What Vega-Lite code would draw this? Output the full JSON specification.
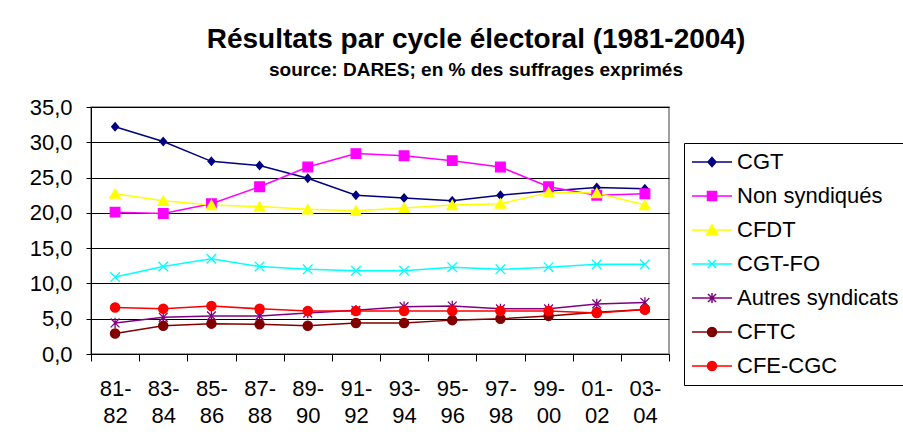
{
  "$schema": "https://vega.github.io/schema/vega-lite/v6.json",
  "width": 578,
  "height": 247,
  "autosize": {"type": "none"},
  "padding": {"left": 91, "top": 107, "right": 234, "bottom": 91},
  "background": "white",
  "title": {
    "text": "Résultats par cycle électoral (1981-2004)",
    "subtitle": "source: DARES; en % des suffrages exprimés",
    "anchor": "middle",
    "dx": 96,
    "offset": 16,
    "font": "Liberation Sans",
    "fontSize": 28,
    "fontWeight": "bold",
    "color": "black",
    "subtitleFont": "Liberation Sans",
    "subtitleFontSize": 19,
    "subtitleFontWeight": "bold",
    "subtitleColor": "black",
    "subtitlePadding": 7
  },
  "data": {
    "values": [
      {"cycle": "81-82", "serie": "CGT", "v": 32.2},
      {"cycle": "83-84", "serie": "CGT", "v": 30.1},
      {"cycle": "85-86", "serie": "CGT", "v": 27.3},
      {"cycle": "87-88", "serie": "CGT", "v": 26.7},
      {"cycle": "89-90", "serie": "CGT", "v": 24.9},
      {"cycle": "91-92", "serie": "CGT", "v": 22.5},
      {"cycle": "93-94", "serie": "CGT", "v": 22.1},
      {"cycle": "95-96", "serie": "CGT", "v": 21.7},
      {"cycle": "97-98", "serie": "CGT", "v": 22.5},
      {"cycle": "99-00", "serie": "CGT", "v": 23.1},
      {"cycle": "01-02", "serie": "CGT", "v": 23.6},
      {"cycle": "03-04", "serie": "CGT", "v": 23.4},
      {"cycle": "81-82", "serie": "Non syndiqués", "v": 20.1},
      {"cycle": "83-84", "serie": "Non syndiqués", "v": 19.9},
      {"cycle": "85-86", "serie": "Non syndiqués", "v": 21.3},
      {"cycle": "87-88", "serie": "Non syndiqués", "v": 23.7},
      {"cycle": "89-90", "serie": "Non syndiqués", "v": 26.5},
      {"cycle": "91-92", "serie": "Non syndiqués", "v": 28.4},
      {"cycle": "93-94", "serie": "Non syndiqués", "v": 28.1},
      {"cycle": "95-96", "serie": "Non syndiqués", "v": 27.4},
      {"cycle": "97-98", "serie": "Non syndiqués", "v": 26.5},
      {"cycle": "99-00", "serie": "Non syndiqués", "v": 23.7},
      {"cycle": "01-02", "serie": "Non syndiqués", "v": 22.5},
      {"cycle": "03-04", "serie": "Non syndiqués", "v": 22.7},
      {"cycle": "81-82", "serie": "CFDT", "v": 22.7},
      {"cycle": "83-84", "serie": "CFDT", "v": 21.7},
      {"cycle": "85-86", "serie": "CFDT", "v": 21.1},
      {"cycle": "87-88", "serie": "CFDT", "v": 20.9},
      {"cycle": "89-90", "serie": "CFDT", "v": 20.5},
      {"cycle": "91-92", "serie": "CFDT", "v": 20.3},
      {"cycle": "93-94", "serie": "CFDT", "v": 20.7},
      {"cycle": "95-96", "serie": "CFDT", "v": 21.1},
      {"cycle": "97-98", "serie": "CFDT", "v": 21.3},
      {"cycle": "99-00", "serie": "CFDT", "v": 22.9},
      {"cycle": "01-02", "serie": "CFDT", "v": 22.8},
      {"cycle": "03-04", "serie": "CFDT", "v": 21.1},
      {"cycle": "81-82", "serie": "CGT-FO", "v": 10.9},
      {"cycle": "83-84", "serie": "CGT-FO", "v": 12.4},
      {"cycle": "85-86", "serie": "CGT-FO", "v": 13.5},
      {"cycle": "87-88", "serie": "CGT-FO", "v": 12.4},
      {"cycle": "89-90", "serie": "CGT-FO", "v": 12.0},
      {"cycle": "91-92", "serie": "CGT-FO", "v": 11.8},
      {"cycle": "93-94", "serie": "CGT-FO", "v": 11.8},
      {"cycle": "95-96", "serie": "CGT-FO", "v": 12.3},
      {"cycle": "97-98", "serie": "CGT-FO", "v": 12.0},
      {"cycle": "99-00", "serie": "CGT-FO", "v": 12.3},
      {"cycle": "01-02", "serie": "CGT-FO", "v": 12.7},
      {"cycle": "03-04", "serie": "CGT-FO", "v": 12.7},
      {"cycle": "81-82", "serie": "Autres syndicats", "v": 4.4},
      {"cycle": "83-84", "serie": "Autres syndicats", "v": 5.2},
      {"cycle": "85-86", "serie": "Autres syndicats", "v": 5.4},
      {"cycle": "87-88", "serie": "Autres syndicats", "v": 5.4},
      {"cycle": "89-90", "serie": "Autres syndicats", "v": 5.8},
      {"cycle": "91-92", "serie": "Autres syndicats", "v": 6.2},
      {"cycle": "93-94", "serie": "Autres syndicats", "v": 6.7},
      {"cycle": "95-96", "serie": "Autres syndicats", "v": 6.8},
      {"cycle": "97-98", "serie": "Autres syndicats", "v": 6.4},
      {"cycle": "99-00", "serie": "Autres syndicats", "v": 6.4},
      {"cycle": "01-02", "serie": "Autres syndicats", "v": 7.1},
      {"cycle": "03-04", "serie": "Autres syndicats", "v": 7.3},
      {"cycle": "81-82", "serie": "CFTC", "v": 2.9},
      {"cycle": "83-84", "serie": "CFTC", "v": 4.0},
      {"cycle": "85-86", "serie": "CFTC", "v": 4.3},
      {"cycle": "87-88", "serie": "CFTC", "v": 4.2},
      {"cycle": "89-90", "serie": "CFTC", "v": 4.0},
      {"cycle": "91-92", "serie": "CFTC", "v": 4.4},
      {"cycle": "93-94", "serie": "CFTC", "v": 4.4},
      {"cycle": "95-96", "serie": "CFTC", "v": 4.8},
      {"cycle": "97-98", "serie": "CFTC", "v": 5.0},
      {"cycle": "99-00", "serie": "CFTC", "v": 5.4},
      {"cycle": "01-02", "serie": "CFTC", "v": 5.9},
      {"cycle": "03-04", "serie": "CFTC", "v": 6.3},
      {"cycle": "81-82", "serie": "CFE-CGC", "v": 6.6},
      {"cycle": "83-84", "serie": "CFE-CGC", "v": 6.4},
      {"cycle": "85-86", "serie": "CFE-CGC", "v": 6.8},
      {"cycle": "87-88", "serie": "CFE-CGC", "v": 6.4},
      {"cycle": "89-90", "serie": "CFE-CGC", "v": 6.1},
      {"cycle": "91-92", "serie": "CFE-CGC", "v": 6.1},
      {"cycle": "93-94", "serie": "CFE-CGC", "v": 6.1},
      {"cycle": "95-96", "serie": "CFE-CGC", "v": 6.1},
      {"cycle": "97-98", "serie": "CFE-CGC", "v": 6.1},
      {"cycle": "99-00", "serie": "CFE-CGC", "v": 6.1},
      {"cycle": "01-02", "serie": "CFE-CGC", "v": 5.8},
      {"cycle": "03-04", "serie": "CFE-CGC", "v": 6.3}
    ]
  },
  "encoding": {
    "x": {
      "field": "cycle",
      "type": "ordinal",
      "sort": null,
      "scale": {"type": "band", "paddingInner": 0, "paddingOuter": 0},
      "axis": {
        "title": null,
        "labelAngle": 0,
        "labelExpr": "[slice(datum.label, 0, 3), slice(datum.label, 3)]",
        "labelFont": "Liberation Sans",
        "labelFontSize": 22,
        "labelColor": "black",
        "labelLineHeight": 27,
        "labelPadding": 17,
        "labelBaseline": "top",
        "tickBand": "extent",
        "tickSize": 7,
        "tickColor": "black",
        "domainColor": "black",
        "grid": false
      }
    },
    "y": {
      "field": "v",
      "type": "quantitative",
      "scale": {"domain": [0, 35], "nice": false},
      "axis": {
        "title": null,
        "values": [0, 5, 10, 15, 20, 25, 30, 35],
        "labelExpr": "replace(format(datum.value, '.1f'), '.', ',')",
        "labelFont": "Liberation Sans",
        "labelFontSize": 22,
        "labelColor": "black",
        "labelPadding": 14,
        "tickSize": 5,
        "tickColor": "black",
        "domainColor": "black",
        "gridColor": "black",
        "gridOpacity": 1,
        "gridWidth": 1
      }
    }
  },
  "layer": [
    {
      "mark": {"type": "line", "strokeWidth": 1.5},
      "encoding": {
        "color": {
          "field": "serie",
          "type": "nominal",
          "scale": {
            "domain": ["CGT", "Non syndiqués", "CFDT", "CGT-FO", "Autres syndicats", "CFTC", "CFE-CGC"],
            "range": ["#000080", "#FF00FF", "#FFFF00", "#00FFFF", "#800080", "#800000", "#FF0000"]
          },
          "legend": null
        }
      }
    },
    {
      "mark": {"type": "point", "filled": true, "opacity": 1, "size": 64, "strokeWidth": 1.3},
      "encoding": {
        "fill": {
          "field": "serie",
          "type": "nominal",
          "scale": {
            "domain": ["CGT", "Non syndiqués", "CFDT", "CGT-FO", "Autres syndicats", "CFTC", "CFE-CGC"],
            "range": ["#000080", "#FF00FF", "#FFFF00", "#00FFFF", "#800080", "#800000", "#FF0000"]
          },
          "legend": null
        },
        "stroke": {
          "field": "serie",
          "type": "nominal",
          "scale": {
            "domain": ["CGT", "Non syndiqués", "CFDT", "CGT-FO", "Autres syndicats", "CFTC", "CFE-CGC"],
            "range": ["#000080", "#FF00FF", "#FFFF00", "#00FFFF", "#800080", "#800000", "#FF0000"]
          },
          "legend": null
        },
        "shape": {
          "field": "serie",
          "type": "nominal",
          "scale": {
            "domain": ["CGT", "Non syndiqués", "CFDT", "CGT-FO", "Autres syndicats", "CFTC", "CFE-CGC"],
            "range": [
              "M0,-1L0.85,0L0,1L-0.85,0Z",
              "M-1.2,-1.2H1.2V1.2H-1.2Z",
              "M0,-1.2L1.3,1.1H-1.3Z",
              "M-1.2,-1.2L1.2,1.2M-1.2,1.2L1.2,-1.2",
              "M-1.1,-1.1L1.1,1.1M-1.1,1.1L1.1,-1.1M0,-1.3V1.3",
              "M-1.15,0A1.15,1.15,0,1,0,1.15,0A1.15,1.15,0,1,0,-1.15,0Z",
              "M-1.15,0A1.15,1.15,0,1,0,1.15,0A1.15,1.15,0,1,0,-1.15,0Z"
            ]
          },
          "legend": null
        }
      }
    },
    {
      "transform": [{"filter": "false"}],
      "mark": {"type": "point", "filled": true, "opacity": 1, "size": 400, "strokeWidth": 1.5},
      "encoding": {
        "fill": {
          "field": "serie",
          "type": "nominal",
          "scale": {
            "domain": ["CGT", "Non syndiqués", "CFDT", "CGT-FO", "Autres syndicats", "CFTC", "CFE-CGC"],
            "range": ["#000080", "#FF00FF", "#FFFF00", "#00FFFF", "#800080", "#800000", "#FF0000"]
          },
          "legend": {
            "title": null,
            "orient": "none",
            "legendX": 593,
            "legendY": 36,
            "padding": 8,
            "strokeColor": "black",
            "fillColor": "white",
            "labelFont": "Liberation Sans",
            "labelFontSize": 22,
            "labelColor": "black",
            "labelLimit": 400,
            "symbolOffset": 9,
            "labelOffset": 14,
            "rowPadding": 12,
            "symbolStrokeWidth": 1.5,
            "symbolOpacity": 1,
            "symbolSize": 400
          }
        },
        "stroke": {
          "field": "serie",
          "type": "nominal",
          "scale": {
            "domain": ["CGT", "Non syndiqués", "CFDT", "CGT-FO", "Autres syndicats", "CFTC", "CFE-CGC"],
            "range": ["#000080", "#FF00FF", "#FFFF00", "#00FFFF", "#800080", "#800000", "#FF0000"]
          },
          "legend": {
            "title": null,
            "orient": "none",
            "legendX": 593,
            "legendY": 36,
            "padding": 8,
            "strokeColor": "black",
            "fillColor": "white",
            "labelFont": "Liberation Sans",
            "labelFontSize": 22,
            "labelColor": "black",
            "labelLimit": 400,
            "symbolOffset": 9,
            "labelOffset": 14,
            "rowPadding": 12,
            "symbolStrokeWidth": 1.5,
            "symbolOpacity": 1,
            "symbolSize": 400
          }
        },
        "shape": {
          "field": "serie",
          "type": "nominal",
          "scale": {
            "domain": ["CGT", "Non syndiqués", "CFDT", "CGT-FO", "Autres syndicats", "CFTC", "CFE-CGC"],
            "range": [
              "M-2,0H2M0,-0.45L0.4,0L0,0.45L-0.4,0Z",
              "M-2,0H2M-0.45,-0.45H0.45V0.45H-0.45Z",
              "M-2,0H2M0,-0.5L0.55,0.45H-0.55Z",
              "M-2,0H2M-0.4,-0.4L0.4,0.4M-0.4,0.4L0.4,-0.4",
              "M-2,0H2M-0.4,-0.4L0.4,0.4M-0.4,0.4L0.4,-0.4M0,-0.5V0.5",
              "M-2,0H2M-0.45,0A0.45,0.45,0,1,0,0.45,0A0.45,0.45,0,1,0,-0.45,0Z",
              "M-2,0H2M-0.45,0A0.45,0.45,0,1,0,0.45,0A0.45,0.45,0,1,0,-0.45,0Z"
            ]
          },
          "legend": {
            "title": null,
            "orient": "none",
            "legendX": 593,
            "legendY": 36,
            "padding": 8,
            "strokeColor": "black",
            "fillColor": "white",
            "labelFont": "Liberation Sans",
            "labelFontSize": 22,
            "labelColor": "black",
            "labelLimit": 400,
            "symbolOffset": 9,
            "labelOffset": 14,
            "rowPadding": 12,
            "symbolStrokeWidth": 1.5,
            "symbolOpacity": 1,
            "symbolSize": 400
          }
        }
      }
    }
  ],
  "resolve": {"scale": {"fill": "independent", "stroke": "independent", "shape": "independent", "color": "independent"}},
  "config": {
    "view": {"stroke": "#808080", "strokeWidth": 1.5},
    "axis": {"domainWidth": 1, "tickWidth": 1}
  }
}
